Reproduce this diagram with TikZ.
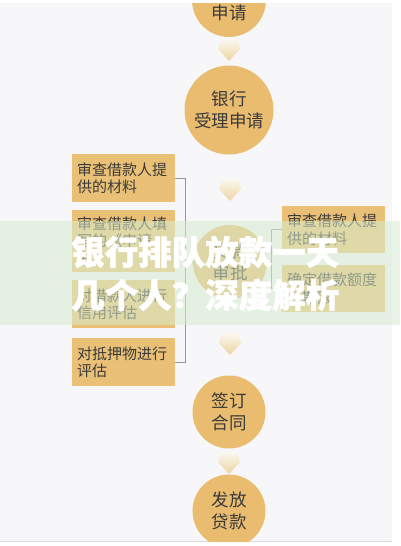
\documentclass[tikz,border=0pt]{standalone}
\usepackage{fontspec}
\setmainfont{Noto Sans CJK SC}
\newfontfamily\wmfont{Noto Sans CJK SC}[FakeBold=1.5]
\usetikzlibrary{calc}
\definecolor{bgc}{RGB}{247,247,249}
\definecolor{circ}{RGB}{233,188,112}
\definecolor{boxc}{RGB}{234,192,118}
\definecolor{txt}{RGB}{58,58,58}
\definecolor{brk}{RGB}{140,152,164}
\definecolor{chevtop}{RGB}{251,248,240}
\definecolor{chevbot}{RGB}{236,212,160}
\definecolor{band}{RGB}{214,236,208}
\definecolor{rule}{RGB}{218,218,220}
\newcommand\chevshape[1]{\shade[top color=chevtop,bottom color=chevbot]
  ($(#1)+(-8,-11)$) -- ($(#1)+(8,-11)$) -- ($(#1)+(11,-1)$) -- ($(#1)+(0,11)$) -- ($(#1)+(-11,-1)$) -- cycle;}
\begin{document}
\begin{tikzpicture}[x=1pt,y=-1pt,
  stage/.style={circle, fill=circ, inner sep=0pt, minimum size=#1, text=txt, align=center,
    font=\fontsize{17.5}{22}\selectfont},
  infobox/.style={fill=boxc, anchor=north west, text width=93pt, inner xsep=5pt, inner ysep=0pt,
    align=left, text=txt, font=\fontsize{15}{17.5}\selectfont},
  link/.style={draw=brk, line width=0.8pt},
  wm/.style={text=white, anchor=west, inner sep=0pt, font=\fontsize{33.5}{36}\wmfont\bfseries}
]
\useasboundingbox (0,0) rectangle (400,546);
\fill[white] (0,0) rectangle (400,546);
\fill[bgc] (0,3) rectangle (392,541);
\draw[rule, line width=0.8pt] (0,541) -- (392,541);

% side boxes (left)
\node[infobox, minimum height=48pt] (b1) at (72,154) {审查借款人提\\供的材料};
\node[infobox, minimum height=62pt] (b2) at (72,210) {审查借款人填\\写的《申请\\书》};
\node[infobox, minimum height=48pt] (b3) at (72,280) {对借款人进行\\信用评估};
\node[infobox, minimum height=48pt] (b4) at (72,338) {对抵押物进行\\评估};
% side boxes (right)
\node[infobox, minimum height=47pt] (r1) at (282,206) {审查借款人提\\供的材料};
\node[infobox, minimum height=47pt] (r2) at (282,265) {确定借款额度\\和期限};

\begin{scope}
\clip (0,3) rectangle (392,541);
\node[stage=74pt] (c1) at (229,0) {};
\node[text=txt, font=\fontsize{17.5}{22}\selectfont, inner sep=0pt] (t1) at (229,13) {申请};
\node[stage=89pt] (c2) at (229,110) {银行\\受理申请};
\node[stage=74pt] (c3) at (230,262) {贷款\\审批};
\node[stage=73pt] (c4) at (229,412) {签订\\合同};
\node[stage=73pt] (c5) at (229,511) {发放\\贷款};
\end{scope}

% brackets
\draw[link] (b1.east) -- ++(10,0) coordinate (lbx) |- (b4.east);
\draw[link] (lbx |- c3.west) -- (c3.west);
\draw[link] (r1.west) -- ++(-11,0) coordinate (rbx) |- (r2.west);
\draw[link] (c3.east) -- (rbx |- c3.east);

% flow chevrons between stages
\coordinate (a1) at (229,50);
\coordinate (a2) at (230,190);
\coordinate (a3) at (230,344);
\coordinate (a4) at (229,463);
\chevshape{a1}
\chevshape{a2}
\chevshape{a3}
\chevshape{a4}

% overlay band and title
\fill[band, opacity=0.55] (0,221) rectangle (400,325);
\node[wm] (w1) at (71,252) {银行排队放款一天};
\node[wm] (w2) at (71,295) {几个人？深度解析};
\end{tikzpicture}
\end{document}
